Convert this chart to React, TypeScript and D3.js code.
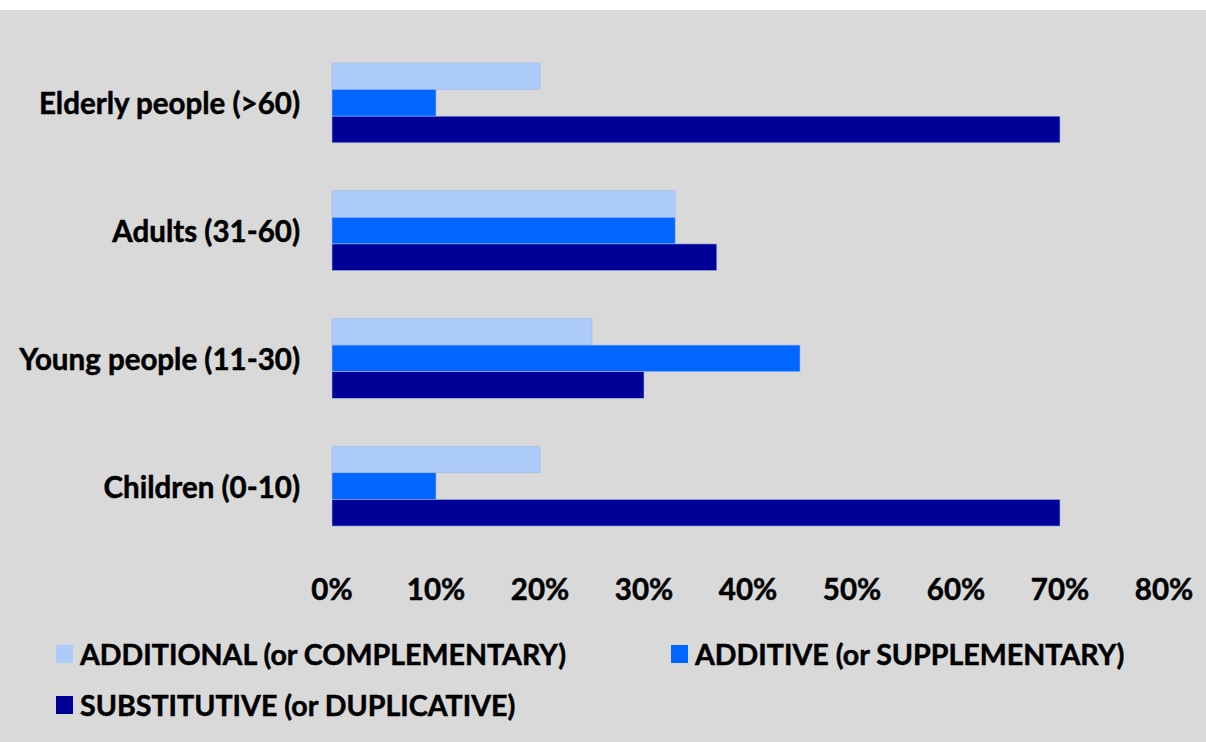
import React from "react";
import * as d3 from "d3";

const categories = ["Elderly people (>60)", "Adults (31-60)", "Young people (11-30)", "Children (0-10)"];
const seriesNames = ["ADDITIONAL (or COMPLEMENTARY)", "ADDITIVE (or SUPPLEMENTARY)", "SUBSTITUTIVE (or DUPLICATIVE)"];
const additional = [20, 33, 25, 20];
const additive = [10, 33, 45, 10];
const substitutive = [70, 37, 30, 70];
const tickValues = [0, 10, 20, 30, 40, 50, 60, 70, 80];
const colors = ["#ADCBF8", "#0066FF", "#000099"];

const W = 1206;
const H = 742;
const FONT = "Lato, 'Open Sans', sans-serif";
const FS = 29.5;
const LFS = 28.6;
const FW = 700;

export default function App() {
  const series = [additional, additive, substitutive];
  const x = d3.scaleLinear().domain([0, 80]).range([332, 1164]);
  const y = d3.scaleBand<string>().domain(categories).range([39, 550]).paddingInner(0.375).paddingOuter(0.1875);
  const inner = d3.scaleBand<number>().domain([0, 1, 2]).range([0, y.bandwidth()]);

  const legendItems = [
    { i: 0, x: 56, y: 654 },
    { i: 1, x: 671, y: 654 },
    { i: 2, x: 56, y: 705 },
  ];

  const textProps = { fontWeight: FW, fontSize: FS, fill: "#000", stroke: "#000", strokeWidth: 0.5 };

  return (
    <svg width={W} height={H} style={{ position: "absolute", left: 0, top: 0 }} fontFamily={FONT}>
      <rect x={0} y={0} width={W} height={H} fill="#ffffff" />
      <rect x={0} y={10} width={W} height={H - 10} fill="#D9D9D9" />
      {categories.map((c, ci) => (
        <g key={c}>
          {series.map((s, si) => (
            <rect
              key={si}
              x={x(0)}
              y={(y(c) as number) + (inner(si) as number)}
              width={x(s[ci]) - x(0)}
              height={inner.bandwidth()}
              fill={colors[si]}
              stroke="#9fb8e8"
              strokeWidth={0.6}
            />
          ))}
          <text
            x={300}
            y={(y(c) as number) + y.bandwidth() / 2}
            textAnchor="end"
            dominantBaseline="central"
            {...textProps}
          >
            {c}
          </text>
        </g>
      ))}
      {tickValues.map((t) => (
        <text key={t} x={x(t)} y={600} textAnchor="middle" {...textProps}>
          {t + "%"}
        </text>
      ))}
      {legendItems.map((l) => (
        <g key={l.i}>
          <rect x={l.x} y={l.y - 9} width={17} height={18} fill={colors[l.i]} />
          <text x={l.x + 24} y={l.y} dominantBaseline="central" {...textProps} fontSize={LFS}>
            {seriesNames[l.i]}
          </text>
        </g>
      ))}
    </svg>
  );
}
